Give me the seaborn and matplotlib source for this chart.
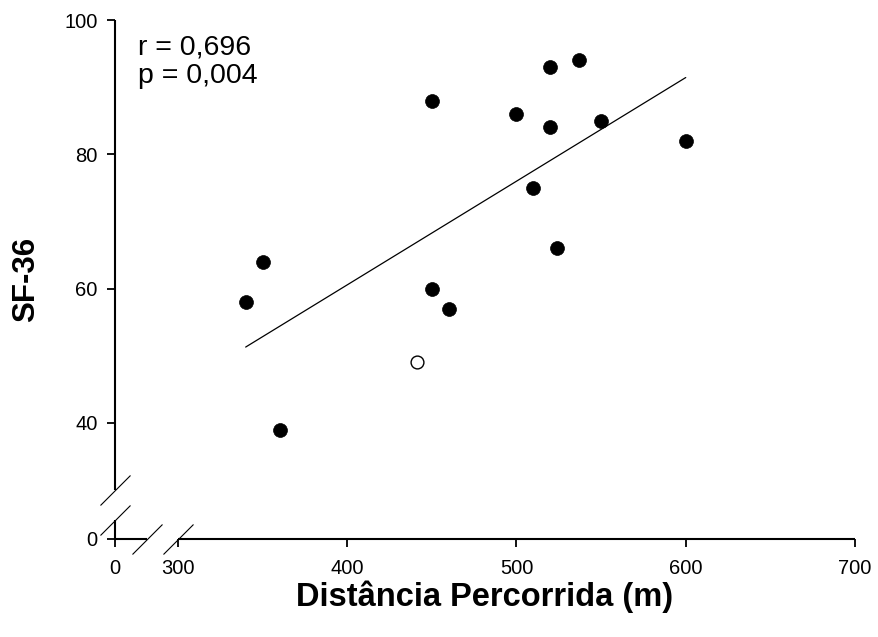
import numpy as np
import pandas as pd
import matplotlib
matplotlib.use("Agg")
import matplotlib.pyplot as plt
import seaborn as sns

# Distância percorrida (m) vs SF-36, filled points
dist = [340, 350, 360, 450, 450, 460, 500, 510, 520, 520, 524, 537, 550, 600]
sf36 = [58, 64, 39, 88, 60, 57, 86, 75, 93, 84, 66, 94, 85, 82]
# open point
dist_open = [441]
sf36_open = [49]

xticks = [0, 300, 400, 500, 600, 700]
yticks = [0, 40, 60, 80, 100]
r_text = "r = 0,696"
p_text = "p = 0,004"

# broken axes: linear above the break, squeezed below it
X_BRK, X_K = 300, 0.124
Y_BRK, Y_K = 30, 0.243


def make_scale(brk, k):
    def fwd(v):
        v = np.asarray(v, dtype=float)
        return np.where(v >= brk, v, brk - (brk - v) * k)

    def inv(t):
        t = np.asarray(t, dtype=float)
        return np.where(t >= brk, t, brk - (brk - t) / k)

    return fwd, inv


sns.set_theme(style="ticks")
plt.rcParams["font.family"] = ["Liberation Sans", "DejaVu Sans"]
plt.rcParams["text.color"] = "black"
plt.rcParams["axes.labelcolor"] = "black"

fig = plt.figure(figsize=(8.79, 6.37), dpi=100)
ax = fig.add_axes([115 / 879, 1 - 539 / 637, 740 / 879, 519 / 637])
ax.set_xscale("function", functions=make_scale(X_BRK, X_K))
ax.set_yscale("function", functions=make_scale(Y_BRK, Y_K))

# regression line over all points
df = pd.DataFrame({"dist": dist + dist_open, "sf36": sf36 + sf36_open})
sns.regplot(data=df, x="dist", y="sf36", scatter=False, ci=None, color="black",
            line_kws={"lw": 0.9}, ax=ax)

sns.scatterplot(x=dist, y=sf36, color="black", s=100, edgecolor="black",
                linewidth=0.5, ax=ax, zorder=3)
sns.scatterplot(x=dist_open, y=sf36_open, color="white", edgecolor="black",
                s=85, linewidth=1.0, ax=ax, zorder=3)

ax.set_xlim(0, 700)
ax.set_ylim(0, 100)
ax.set_xticks(xticks)
ax.set_yticks(yticks)
ax.tick_params(direction="out", length=5.5, width=1.3, color="black",
               labelsize=14.5, labelcolor="black", pad=7)
ax.tick_params(axis="x", pad=9)

# axis lines with gaps and break marks
for s in ax.spines.values():
    s.set_visible(False)
axis_kw = dict(color="black", lw=1.5, clip_on=False, solid_capstyle="butt")
ax.plot([0, 0], [Y_BRK, 100], **axis_kw)
ax.plot([0, 0], [0, 11.6], **axis_kw)
ax.plot([0, 152], [0, 0], **axis_kw)
ax.plot([X_BRK, 700], [0, 0], **axis_kw)
slash = [(-1, -1), (1, 1)]
ax.plot([0, 0, 152, X_BRK], [Y_BRK, 11.6, 0, 0], ls="none", marker=slash,
        ms=21.6, mew=0.8, color="black", clip_on=False)

ax.text(0.031, 0.9326, r_text, transform=ax.transAxes, fontsize=20.5,
        va="baseline", ha="left")
ax.text(0.031, 0.8786, p_text, transform=ax.transAxes, fontsize=20.5,
        va="baseline", ha="left")

ax.set_xlabel("Distância Percorrida (m)", fontsize=23.5, fontweight="bold",
              labelpad=2)
ax.set_ylabel("SF-36", fontsize=22.5, fontweight="bold", labelpad=17)

fig.savefig("out.png", dpi=100)
